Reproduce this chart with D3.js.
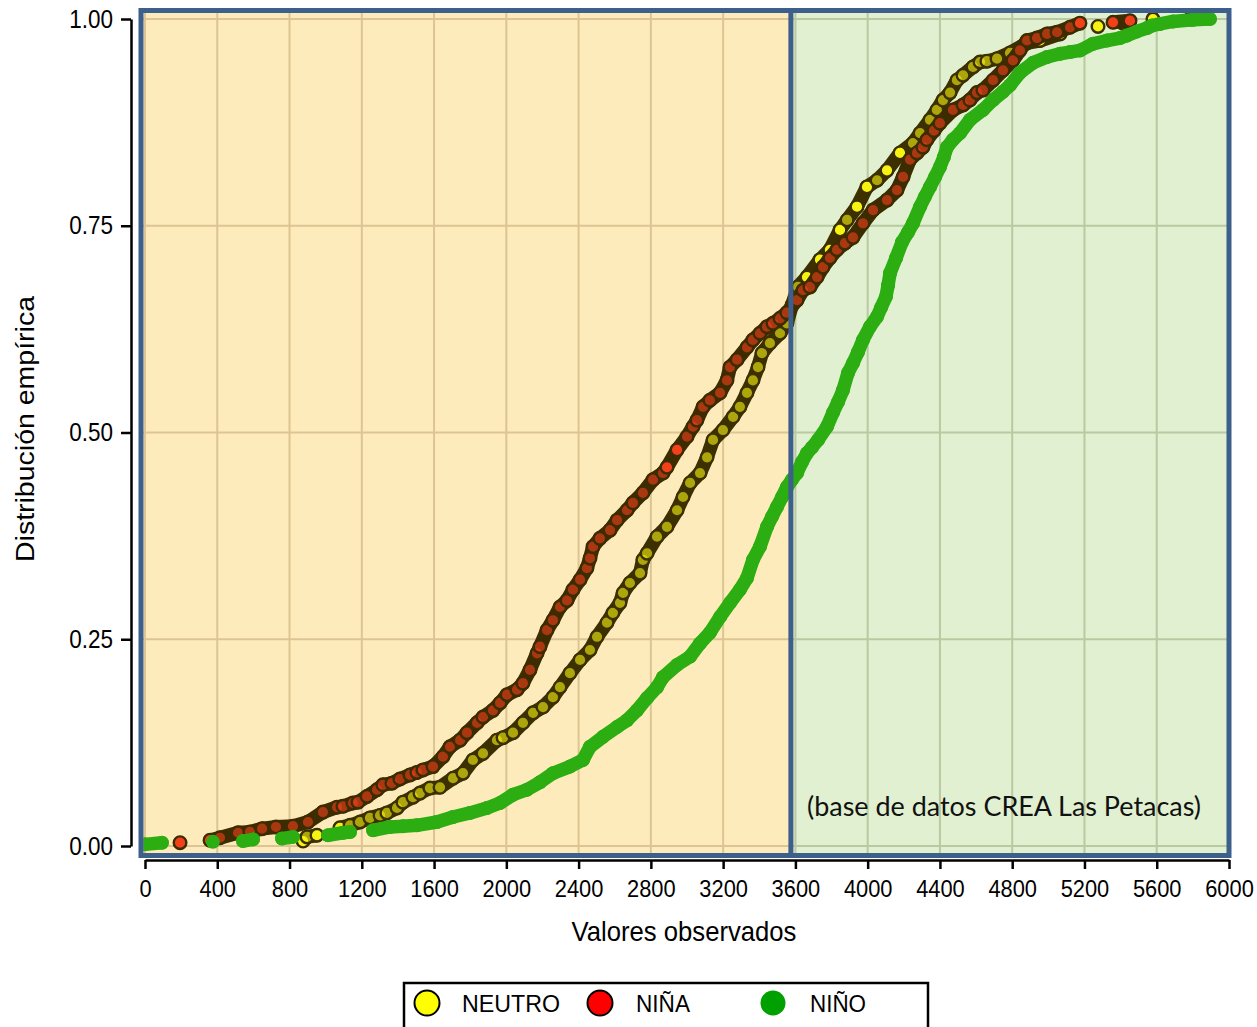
<!DOCTYPE html>
<html>
<head>
<meta charset="utf-8">
<script src="https://cdn.jsdelivr.net/npm/d3@7"></script>
<style>
  body { margin: 0; background: #fff; }
  svg { display: block; }
</style>
</head>
<body>
<div class="ecdf"></div>
<script>
const neutroValor = [875, 897, 952, 1079, 1135, 1190, 1245, 1301, 1339, 1395, 1428, 1483, 1522, 1577, 1633, 1705, 1760, 1815, 1871, 1948,
  1982, 2037, 2092, 2148, 2203, 2258, 2297, 2352, 2408, 2463, 2502, 2557, 2590, 2629, 2646, 2684, 2740, 2756, 2779, 2834,
  2889, 2945, 2978, 3017, 3072, 3111, 3144, 3199, 3255, 3293, 3332, 3365, 3393, 3415, 3459, 3515, 3553, 3581, 3614, 3664,
  3736, 3791, 3847, 3886, 3941, 3996, 4052, 4107, 4179, 4251, 4290, 4345, 4383, 4417, 4456, 4494, 4528, 4583, 4622, 4660,
  4716, 4788, 4882, 4954, 5065, 5275, 5413, 5579];
const neutroProb = [0.006, 0.011, 0.013, 0.022, 0.025, 0.029, 0.034, 0.037, 0.040, 0.046, 0.053, 0.059, 0.064, 0.070, 0.071, 0.082, 0.088, 0.104, 0.112, 0.128,
  0.131, 0.137, 0.149, 0.161, 0.168, 0.180, 0.192, 0.209, 0.225, 0.237, 0.253, 0.270, 0.282, 0.294, 0.306, 0.318, 0.330, 0.346, 0.354, 0.374,
  0.386, 0.406, 0.422, 0.439, 0.451, 0.470, 0.491, 0.503, 0.519, 0.531, 0.548, 0.563, 0.579, 0.596, 0.608, 0.620, 0.632, 0.654, 0.676, 0.688,
  0.709, 0.721, 0.745, 0.757, 0.773, 0.797, 0.805, 0.817, 0.838, 0.850, 0.862, 0.878, 0.890, 0.902, 0.911, 0.926, 0.932, 0.942, 0.948, 0.949,
  0.952, 0.959, 0.971, 0.974, 0.982, 0.991, 0.995, 1.000];

const ninaValor = [194, 360, 415, 515, 581, 648, 725, 819, 902, 985, 1063, 1096, 1151, 1179, 1229, 1284, 1317, 1367, 1411, 1467,
  1505, 1539, 1594, 1649, 1688, 1744, 1782, 1838, 1871, 1926, 1965, 2004, 2059, 2092, 2131, 2170, 2186, 2225, 2258, 2297,
  2336, 2369, 2408, 2446, 2463, 2480, 2518, 2574, 2613, 2668, 2701, 2756, 2812, 2867, 2889, 2945, 3000, 3033, 3055, 3089,
  3127, 3183, 3221, 3238, 3277, 3332, 3365, 3404, 3443, 3476, 3515, 3553, 3609, 3642, 3681, 3720, 3753, 3791, 3830, 3874, 3919,
  3974, 4030, 4107, 4162, 4196, 4234, 4273, 4306, 4328, 4367, 4400, 4472, 4528, 4566, 4605, 4638, 4694, 4749, 4804, 4843, 4882,
  4937, 4993, 5048, 5120, 5175, 5358, 5452, 5784];
const ninaProb = [0.004, 0.007, 0.010, 0.016, 0.017, 0.021, 0.023, 0.024, 0.029, 0.041, 0.047, 0.048, 0.052, 0.053, 0.060, 0.068, 0.074, 0.076, 0.081, 0.086,
  0.089, 0.092, 0.096, 0.108, 0.120, 0.128, 0.137, 0.149, 0.156, 0.164, 0.173, 0.183, 0.189, 0.197, 0.213, 0.233, 0.241, 0.261, 0.273, 0.289,
  0.297, 0.310, 0.322, 0.336, 0.348, 0.362, 0.372, 0.382, 0.394, 0.406, 0.415, 0.427, 0.443, 0.451, 0.458, 0.479, 0.495, 0.507, 0.515, 0.531,
  0.539, 0.548, 0.563, 0.579, 0.588, 0.603, 0.612, 0.620, 0.628, 0.632, 0.638, 0.645, 0.660, 0.672, 0.676, 0.688, 0.700, 0.711, 0.721, 0.729, 0.736,
  0.753, 0.769, 0.781, 0.793, 0.809, 0.830, 0.838, 0.845, 0.854, 0.865, 0.874, 0.890, 0.896, 0.902, 0.911, 0.914, 0.926, 0.938, 0.950, 0.962, 0.974,
  0.977, 0.982, 0.984, 0.990, 0.995, 0.996, 0.998, 1.000];

const ninoValor = [0, 94, 376, 542, 598, 758, 819, 1013, 1096, 1135, 1262, 1356, 1428, 1505, 1616, 1705, 1799, 1893, 1965, 2037,
  2114, 2186, 2258, 2352, 2424, 2463, 2535, 2613, 2668, 2723, 2779, 2834, 2867, 2945, 3017, 3072, 3127, 3183, 3238, 3293,
  3332, 3365, 3404, 3443, 3470, 3498, 3526, 3553, 3581, 3609, 3636, 3664, 3692, 3725, 3775, 3808, 3836, 3863, 3891, 3919, 3946, 3974, 4013, 4052,
  4074, 4101, 4113, 4124, 4157, 4190, 4223, 4251, 4290, 4317, 4345, 4373, 4400, 4422, 4439, 4472, 4511, 4566, 4638, 4694, 4749, 4788, 4843, 4915, 4993, 5065, 5120,
  5175, 5247, 5325, 5397, 5435, 5491, 5546, 5574, 5618, 5690, 5801, 5895];
const ninoProb = [0.002, 0.004, 0.005, 0.006, 0.008, 0.009, 0.011, 0.013, 0.016, 0.017, 0.019, 0.023, 0.024, 0.025, 0.029, 0.035, 0.040, 0.046, 0.052, 0.062,
  0.068, 0.077, 0.088, 0.096, 0.104, 0.120, 0.132, 0.144, 0.152, 0.164, 0.179, 0.192, 0.204, 0.219, 0.229, 0.245, 0.258, 0.277, 0.294, 0.310,
  0.324, 0.346, 0.362, 0.386, 0.398, 0.410, 0.422, 0.434, 0.443, 0.451, 0.464, 0.475, 0.482, 0.491, 0.507, 0.524, 0.537, 0.551, 0.572, 0.584, 0.597, 0.612, 0.628, 0.640,
  0.651, 0.664, 0.678, 0.693, 0.711, 0.730, 0.742, 0.753, 0.773, 0.785, 0.797, 0.809, 0.821, 0.833, 0.845, 0.854, 0.862, 0.878, 0.890, 0.902, 0.912, 0.920, 0.935, 0.947, 0.954, 0.958, 0.960,
  0.962, 0.970, 0.974, 0.977, 0.980, 0.985, 0.989, 0.992, 0.994, 0.997, 0.999, 1.000];

/* ticks y limite entre zonas */
const xTicks = [0, 400, 800, 1200, 1600, 2000, 2400, 2800, 3200, 3600, 4000, 4400, 4800, 5200, 5600, 6000];
const yTicks = [0, 0.25, 0.5, 0.75, 1];
const limiteZona = 3575;

const series = [
  {nombre: "NEUTRO", valores: neutroValor, prob: neutroProb, fill: "#f6f313", stroke: "#3d3000", legend: "#ffff00"},
  {nombre: "NIÑA", valores: ninaValor, prob: ninaProb, fill: "#f2401a", stroke: "#3d2c00", legend: "#ff0000"},
  {nombre: "NIÑO", valores: ninoValor, prob: ninoProb, fill: "#2cae12", stroke: "none", legend: "#00a000"}
];

const FONT = "'Liberation Sans', Arial, sans-serif";

/* contenedor */
const W = 1257, H = 1027;
const svg = d3.select(".ecdf").append("svg")
  .attr("width", W)
  .attr("height", H)
  .style("font-family", FONT);

/* escalas */
const x = d3.scaleLinear().domain([0, 6000]).range([145, 1229]);
const y = d3.scaleLinear().domain([0, 1]).range([846, 19]);

/* marco del panel */
const pLeft = x(0) - 4, pRight = x(6000), pTop = y(1) - 8.5, pBottom = y(0) + 9.5;
const xDiv = x(limiteZona);

svg.append("rect")
  .attr("x", pLeft).attr("y", pTop)
  .attr("width", xDiv - pLeft).attr("height", pBottom - pTop)
  .attr("fill", "#feebbb");
svg.append("rect")
  .attr("x", xDiv).attr("y", pTop)
  .attr("width", pRight - xDiv).attr("height", pBottom - pTop)
  .attr("fill", "#e0f0d0");

/* grilla */
const grid = svg.append("g").attr("stroke-width", 2);
grid.selectAll(".vx")
  .data(xTicks.filter(d => d < 6000))
  .join("line")
  .attr("class", "vx")
  .attr("x1", d => x(d)).attr("x2", d => x(d))
  .attr("y1", pTop).attr("y2", pBottom)
  .attr("stroke", d => x(d) < xDiv ? "#dcc592" : "#b9c9a2");
grid.selectAll(".hl")
  .data(yTicks)
  .join("line")
  .attr("class", "hl")
  .attr("x1", pLeft).attr("x2", xDiv)
  .attr("y1", d => y(d)).attr("y2", d => y(d))
  .attr("stroke", "#dcc592");
grid.selectAll(".hr")
  .data(yTicks)
  .join("line")
  .attr("class", "hr")
  .attr("x1", xDiv).attr("x2", pRight)
  .attr("y1", d => y(d)).attr("y2", d => y(d))
  .attr("stroke", "#b9c9a2");

/* recorte de los puntos al panel */
svg.append("clipPath").attr("id", "panel")
  .append("rect")
  .attr("x", pLeft + 2.5).attr("y", pTop + 2.5)
  .attr("width", pRight - pLeft - 5).attr("height", pBottom - pTop - 5);

const puntos = svg.append("g").attr("clip-path", "url(#panel)");

const R = 6.3, SW = 2.4, GAP = 23;
const dist = (a, b) => Math.hypot(b[0] - a[0], b[1] - a[1]);

series.forEach(s => {
  const pts = s.valores.map((v, i) => [x(v), y(s.prob[i])]);
  /* tramos donde las observaciones se solapan: banda continua */
  const tramos = d3.pairs(pts).filter(([a, b]) => dist(a, b) < GAP);
  /* puntos con vecinos cercanos a ambos lados quedan mas tapados */
  const denso = pts.map((p, i) => i > 0 && i < pts.length - 1 &&
    dist(p, pts[i - 1]) < 20 && dist(p, pts[i + 1]) < 20);
  const g = puntos.append("g");
  g.selectAll("line")
    .data(tramos)
    .join("line")
    .attr("x1", d => d[0][0]).attr("y1", d => d[0][1])
    .attr("x2", d => d[1][0]).attr("y2", d => d[1][1])
    .attr("stroke", s.stroke === "none" ? s.fill : s.stroke)
    .attr("stroke-width", s.stroke === "none" ? 13.5 : 2 * R + SW - 1)
    .attr("stroke-linecap", "round");
  g.selectAll("circle")
    .data(pts)
    .join("circle")
    .attr("cx", d => d[0])
    .attr("cy", d => d[1])
    .attr("r", s.stroke === "none" ? 7 : R)
    .attr("fill", s.fill)
    .attr("fill-opacity", (d, i) => s.stroke !== "none" && denso[i] ? 0.6 : 1)
    .attr("stroke", s.stroke)
    .attr("stroke-width", SW);
});

/* marco azul y division */
svg.append("rect")
  .attr("x", pLeft).attr("y", pTop)
  .attr("width", pRight - pLeft).attr("height", pBottom - pTop)
  .attr("fill", "none")
  .attr("stroke", "#3d5f8c")
  .attr("stroke-width", 5);
svg.append("line")
  .attr("x1", xDiv).attr("x2", xDiv)
  .attr("y1", pTop).attr("y2", pBottom)
  .attr("stroke", "#3d5f8c")
  .attr("stroke-width", 5);

/* nota */
svg.append("text")
  .attr("x", 807).attr("y", 816)
  .attr("textLength", 394)
  .attr("lengthAdjust", "spacingAndGlyphs")
  .style("font-family", "Lato, 'Open Sans', sans-serif")
  .style("font-size", "27px")
  .attr("fill", "#111")
  .text("(base de datos CREA Las Petacas)");

/* ejes */
const yAxis = d3.axisLeft(y)
  .tickValues(yTicks)
  .tickFormat(d3.format(".2f"))
  .tickSize(10)
  .tickSizeOuter(0);
const gy = svg.append("g")
  .attr("transform", "translate(131,0)")
  .call(yAxis)
  .attr("font-family", FONT);
gy.select(".domain").attr("stroke-width", 2.5);
gy.selectAll(".tick line").attr("stroke-width", 2.5);
gy.selectAll(".tick text")
  .attr("x", -20)
  .attr("transform", "scale(0.9,1)")
  .style("font-size", "25px")
  .attr("fill", "#000");

const xAxis = d3.axisBottom(x)
  .tickValues(xTicks)
  .tickFormat(d3.format("d"))
  .tickSize(9)
  .tickSizeOuter(0)
  .tickPadding(11);
const gx = svg.append("g")
  .attr("transform", "translate(0,860)")
  .call(xAxis)
  .attr("font-family", FONT);
gx.select(".domain").attr("stroke-width", 2.5);
gx.selectAll(".tick line").attr("stroke-width", 2.5);
gx.selectAll(".tick text")
  .attr("transform", "scale(0.91,1)")
  .style("font-size", "24px")
  .attr("fill", "#000");

/* titulos de ejes */
svg.append("text")
  .attr("transform", "translate(684,941) scale(0.9,1)")
  .attr("text-anchor", "middle")
  .style("font-size", "28.5px")
  .text("Valores observados");
svg.append("text")
  .attr("transform", "translate(34,429) scale(0.9,1) rotate(-90)")
  .attr("text-anchor", "middle")
  .style("font-size", "28.5px")
  .text("Distribución empírica");

/* leyenda */
const legend = svg.append("g");
legend.append("rect")
  .attr("x", 404).attr("y", 983)
  .attr("width", 524).attr("height", 70)
  .attr("fill", "#fff")
  .attr("stroke", "#000")
  .attr("stroke-width", 2.5);
const lx = [427, 600, 773];
const tx = [462, 636, 810];
const tw = [98, 54, 56];
series.forEach((s, i) => {
  legend.append("circle")
    .attr("cx", lx[i]).attr("cy", 1003)
    .attr("r", 12.5)
    .attr("fill", s.legend)
    .attr("stroke", s.stroke === "none" ? "none" : "#000")
    .attr("stroke-width", 2);
  legend.append("text")
    .attr("x", tx[i]).attr("y", 1012)
    .attr("textLength", tw[i])
    .attr("lengthAdjust", "spacingAndGlyphs")
    .style("font-size", "24px")
    .text(s.nombre);
});
</script>
</body>
</html>
